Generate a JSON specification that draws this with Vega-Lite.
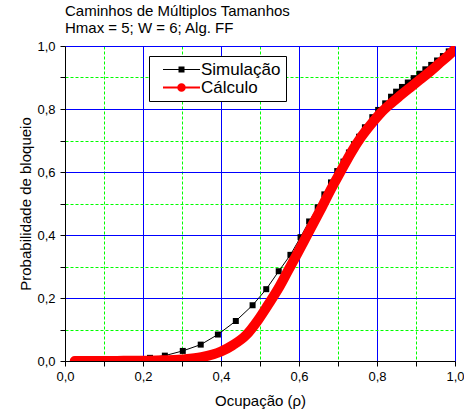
{
  "$schema": "https://vega.github.io/schema/vega-lite/v6.json",
  "width": 390,
  "height": 315,
  "autosize": "none",
  "padding": {"left": 65, "top": 46, "right": 9, "bottom": 55},
  "background": "white",
  "config": {
    "font": "Liberation Sans",
    "view": {"stroke": null},
    "axis": {
      "domainColor": "black",
      "tickColor": "black",
      "labelColor": "black",
      "titleColor": "black",
      "labelFontSize": 13,
      "titleFontSize": 15,
      "titleFontWeight": "normal",
      "tickSize": 5,
      "labelPadding": 4,
      "gridWidth": 1
    }
  },
  "title": {
    "text": ["Caminhos de Múltiplos Tamanhos", "Hmax = 5; W = 6; Alg. FF"],
    "anchor": "start",
    "frame": "group",
    "fontSize": 15,
    "fontWeight": "normal",
    "lineHeight": 17,
    "offset": 4,
    "color": "black"
  },
  "data": {
    "values": [
      {"serie": "Simulação", "rho": 0.05, "prob": 0.0},
      {"serie": "Simulação", "rho": 0.095, "prob": 0.0005},
      {"serie": "Simulação", "rho": 0.14, "prob": 0.003},
      {"serie": "Simulação", "rho": 0.185, "prob": 0.006},
      {"serie": "Simulação", "rho": 0.218, "prob": 0.01},
      {"serie": "Simulação", "rho": 0.256, "prob": 0.017},
      {"serie": "Simulação", "rho": 0.302, "prob": 0.032},
      {"serie": "Simulação", "rho": 0.348, "prob": 0.052},
      {"serie": "Simulação", "rho": 0.392, "prob": 0.084},
      {"serie": "Simulação", "rho": 0.438, "prob": 0.127},
      {"serie": "Simulação", "rho": 0.481, "prob": 0.177},
      {"serie": "Simulação", "rho": 0.516, "prob": 0.228},
      {"serie": "Simulação", "rho": 0.548, "prob": 0.285},
      {"serie": "Simulação", "rho": 0.578, "prob": 0.337},
      {"serie": "Simulação", "rho": 0.604, "prob": 0.393},
      {"serie": "Simulação", "rho": 0.626, "prob": 0.443},
      {"serie": "Simulação", "rho": 0.648, "prob": 0.488},
      {"serie": "Simulação", "rho": 0.665, "prob": 0.529},
      {"serie": "Simulação", "rho": 0.682, "prob": 0.567},
      {"serie": "Simulação", "rho": 0.698, "prob": 0.603},
      {"serie": "Simulação", "rho": 0.714, "prob": 0.633},
      {"serie": "Simulação", "rho": 0.728, "prob": 0.662},
      {"serie": "Simulação", "rho": 0.741, "prob": 0.688},
      {"serie": "Simulação", "rho": 0.754, "prob": 0.712},
      {"serie": "Simulação", "rho": 0.769, "prob": 0.742},
      {"serie": "Simulação", "rho": 0.788, "prob": 0.774},
      {"serie": "Simulação", "rho": 0.803, "prob": 0.797},
      {"serie": "Simulação", "rho": 0.821, "prob": 0.818},
      {"serie": "Simulação", "rho": 0.836, "prob": 0.839},
      {"serie": "Simulação", "rho": 0.849, "prob": 0.855},
      {"serie": "Simulação", "rho": 0.864, "prob": 0.870},
      {"serie": "Simulação", "rho": 0.879, "prob": 0.884},
      {"serie": "Simulação", "rho": 0.894, "prob": 0.898},
      {"serie": "Simulação", "rho": 0.909, "prob": 0.912},
      {"serie": "Simulação", "rho": 0.924, "prob": 0.926},
      {"serie": "Simulação", "rho": 0.939, "prob": 0.940},
      {"serie": "Simulação", "rho": 0.954, "prob": 0.954},
      {"serie": "Simulação", "rho": 0.969, "prob": 0.968},
      {"serie": "Simulação", "rho": 0.984, "prob": 0.983},
      {"serie": "Simulação", "rho": 0.998, "prob": 0.997},
      {"serie": "Cálculo", "rho": 0.025, "prob": 0.0},
      {"serie": "Cálculo", "rho": 0.1, "prob": 0.0},
      {"serie": "Cálculo", "rho": 0.15, "prob": 0.0005},
      {"serie": "Cálculo", "rho": 0.2, "prob": 0.001},
      {"serie": "Cálculo", "rho": 0.25, "prob": 0.002},
      {"serie": "Cálculo", "rho": 0.3, "prob": 0.005},
      {"serie": "Cálculo", "rho": 0.35, "prob": 0.012},
      {"serie": "Cálculo", "rho": 0.4, "prob": 0.03},
      {"serie": "Cálculo", "rho": 0.43, "prob": 0.05},
      {"serie": "Cálculo", "rho": 0.465, "prob": 0.083},
      {"serie": "Cálculo", "rho": 0.495, "prob": 0.13},
      {"serie": "Cálculo", "rho": 0.52, "prob": 0.177},
      {"serie": "Cálculo", "rho": 0.547, "prob": 0.23},
      {"serie": "Cálculo", "rho": 0.572, "prob": 0.287},
      {"serie": "Cálculo", "rho": 0.594, "prob": 0.337},
      {"serie": "Cálculo", "rho": 0.618, "prob": 0.393},
      {"serie": "Cálculo", "rho": 0.658, "prob": 0.487},
      {"serie": "Cálculo", "rho": 0.684, "prob": 0.55},
      {"serie": "Cálculo", "rho": 0.707, "prob": 0.602},
      {"serie": "Cálculo", "rho": 0.733, "prob": 0.66},
      {"serie": "Cálculo", "rho": 0.76, "prob": 0.712},
      {"serie": "Cálculo", "rho": 0.785, "prob": 0.752},
      {"serie": "Cálculo", "rho": 0.81, "prob": 0.788},
      {"serie": "Cálculo", "rho": 0.835, "prob": 0.817},
      {"serie": "Cálculo", "rho": 0.86, "prob": 0.843},
      {"serie": "Cálculo", "rho": 0.885, "prob": 0.868},
      {"serie": "Cálculo", "rho": 0.91, "prob": 0.893},
      {"serie": "Cálculo", "rho": 0.935, "prob": 0.918},
      {"serie": "Cálculo", "rho": 0.96, "prob": 0.945},
      {"serie": "Cálculo", "rho": 0.985, "prob": 0.972},
      {"serie": "Cálculo", "rho": 1.0, "prob": 0.99}
    ]
  },
  "encoding": {
    "x": {
      "field": "rho",
      "type": "quantitative",
      "scale": {"domain": [0, 1], "nice": false},
      "axis": {
        "title": "Ocupação (ρ)",
        "values": [0, 0.1, 0.2, 0.3, 0.4, 0.5, 0.6, 0.7, 0.8, 0.9, 1.0],
        "labelExpr": "round(datum.value*10) % 2 == 0 ? replace(format(datum.value, '.1f'), '.', ',') : ''",
        "labelFlush": false,
        "labelOverlap": false,
        "titlePadding": 10,
        "gridColor": {"condition": {"test": "round(datum.value*10) % 2 == 0", "value": "#0000ff"}, "value": "#00ff00"},
        "gridDash": {"condition": {"test": "round(datum.value*10) % 2 == 0", "value": []}, "value": [3, 2]}
      }
    },
    "y": {
      "field": "prob",
      "type": "quantitative",
      "scale": {"domain": [0, 1], "nice": false},
      "axis": {
        "title": "Probabilidade de bloqueio",
        "values": [0, 0.1, 0.2, 0.3, 0.4, 0.5, 0.6, 0.7, 0.8, 0.9, 1.0],
        "labelExpr": "round(datum.value*10) % 2 == 0 ? replace(format(datum.value, '.1f'), '.', ',') : ''",
        "labelFlush": false,
        "labelOverlap": false,
        "labelPadding": 5,
        "titlePadding": 3,
        "gridColor": {"condition": {"test": "round(datum.value*10) % 2 == 0", "value": "#0000ff"}, "value": "#00ff00"},
        "gridDash": {"condition": {"test": "round(datum.value*10) % 2 == 0", "value": []}, "value": [3, 2]}
      }
    }
  },
  "layer": [
    {
      "transform": [{"filter": "datum.serie == 'Simulação'"}],
      "mark": {"type": "line", "color": "black", "strokeWidth": 1, "clip": true}
    },
    {
      "transform": [{"filter": "datum.serie == 'Simulação'"}],
      "mark": {"type": "point", "shape": "square", "filled": true, "color": "black", "size": 36, "opacity": 1, "clip": true}
    },
    {
      "mark": {"type": "point", "filled": true, "opacity": 0, "strokeWidth": 0},
      "encoding": {
        "color": {
          "field": "serie",
          "type": "nominal",
          "scale": {"domain": ["Simulação", "Cálculo"], "range": ["black", "red"]},
          "legend": {
            "title": null,
            "orient": "none",
            "legendX": 84,
            "legendY": 10,
            "padding": 5,
            "strokeColor": "black",
            "fillColor": "white",
            "labelFontSize": 17,
            "labelColor": "black",
            "symbolSize": 100,
            "symbolOffset": 19,
            "labelOffset": 11,
            "rowPadding": 0,
            "symbolStrokeWidth": 0,
            "encode": {"symbols": {"update": {"opacity": {"value": 1}}}}
          }
        },
        "shape": {
          "field": "serie",
          "type": "nominal",
          "scale": {
            "domain": ["Simulação", "Cálculo"],
            "range": [
              "M-3.7,-0.1L3.7,-0.1L3.7,0.1L-3.7,0.1ZM-0.6,-0.6L0.6,-0.6L0.6,0.6L-0.6,0.6Z",
              "M-3.7,-0.2L3.7,-0.2L3.7,0.2L-3.7,0.2ZM-0.85,0A0.85,0.85,0,1,1,0.85,0A0.85,0.85,0,1,1,-0.85,0Z"
            ]
          }
        }
      }
    },
    {
      "transform": [{"filter": "datum.serie == 'Cálculo'"}],
      "mark": {"type": "line", "color": "red", "strokeWidth": 10, "strokeCap": "round", "strokeJoin": "round", "interpolate": "monotone", "clip": true}
    }
  ]
}
